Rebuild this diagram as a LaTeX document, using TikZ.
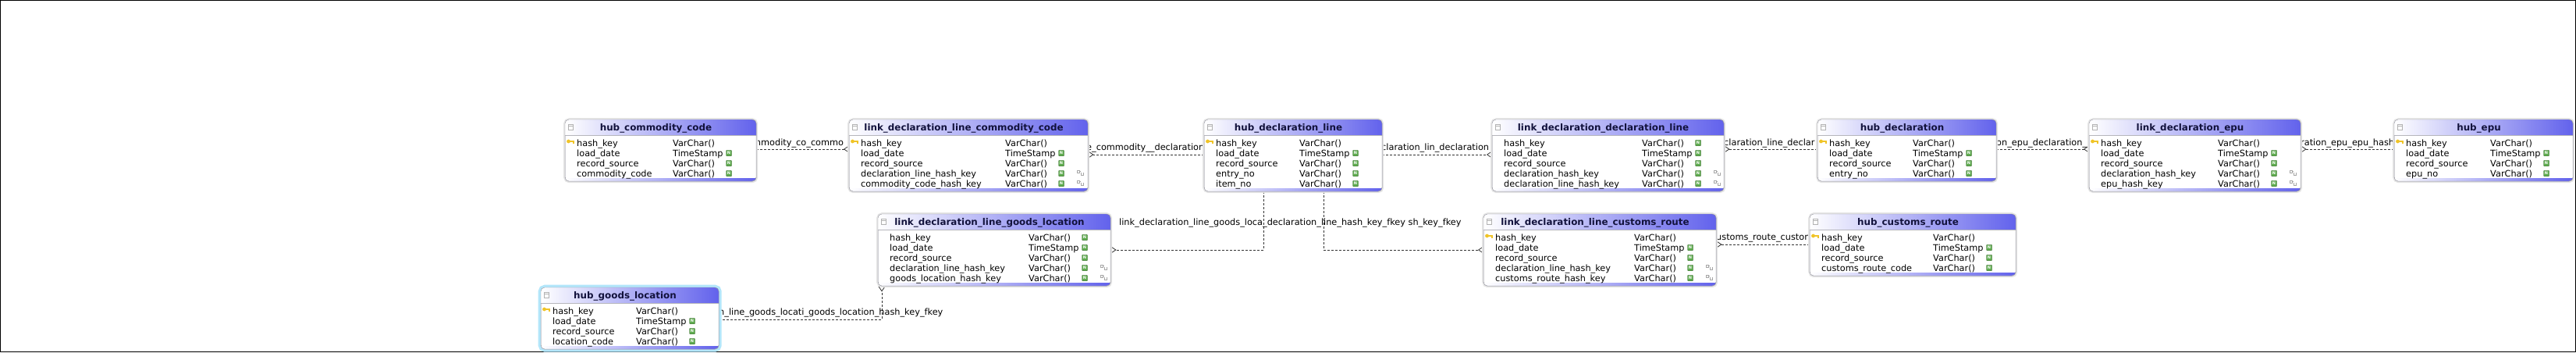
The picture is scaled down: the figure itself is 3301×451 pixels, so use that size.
\documentclass[tikz,border=0pt]{standalone}
\usepackage{fontspec}
\setmainfont{DejaVu Sans}
\usepackage{tikz}
\usepackage{xcolor}
\usetikzlibrary{arrows.meta,backgrounds}

\definecolor{hdrblue}{RGB}{98,98,236}
\definecolor{tabgray}{RGB}{150,150,160}
\definecolor{ngreen}{RGB}{96,172,80}
\definecolor{keygold}{RGB}{240,196,40}
\definecolor{titlecol}{RGB}{18,18,60}

\newcommand{\dbtable}[8][]{%
  \begin{scope}[shift={(#4)}]
    \pgfmathsetmacro\tabh{27+13*#6}
    \node[tabbox,#1,minimum width=#5pt,minimum height=\tabh pt] (#2) at (0,0) {};
    \begin{scope}
      \clip[rounded corners=5pt] (0,0) rectangle (#5,\tabh);
      \shade[left color=white,right color=hdrblue] (0,0) rectangle (#5,20);
      \shade[left color=white,right color=hdrblue] (0,\tabh-4) rectangle (#5,\tabh);
    \end{scope}
    \draw[tabgray!70] (0,20) -- (#5,20);
    \draw[tabgray,rounded corners=5pt] (0,0) rectangle (#5,\tabh);
    \draw[gray!60,fill=white] (4,6) rectangle (10,13);
    \draw[gray!60] (4,8) -- (10,8);
    \node[tabtitle] (#2-title) at (#5/2-6,14.5) {#3};
    \foreach \fname/\ftype/\fflag [count=\i] in {#8}{
      \pgfmathsetmacro\ry{34+13*(\i-1)}
      \node[rowtext] (#2-n\i) at (15,\ry) {\fname};
      \node[rowtext] (#2-t\i) at (#7,\ry) {\ftype};
      \ifnum\fflag=0\relax
        \fill[keygold] (4.5,\ry-6) circle (2.4);
        \draw[keygold,line width=1.5pt] (6,\ry-6) -- (11,\ry-6) -- (11,\ry-3.5);
      \fi
      \ifnum\fflag>0\relax
        \node[nnull] (#2-N\i) at (#7+72,\ry-4) {N};
      \fi
      \ifnum\fflag>1\relax
        \draw[gray!70,line width=0.6pt] (#7+92,\ry-8) rectangle (#7+95,\ry-5)
          (#7+95,\ry-6.5) -- (#7+97,\ry-6.5)
          (#7+97,\ry-5) -- (#7+97,\ry-2) -- (#7+100,\ry-2) -- (#7+100,\ry-5);
      \fi
    }
  \end{scope}}

\begin{document}
\begin{tikzpicture}[x=1pt,y=-1pt,
    tabbox/.style={anchor=north west,draw=tabgray,fill=white,rounded corners=5pt,inner sep=0pt,
      preaction={draw=black!10,line width=4pt}},
    tabtitle/.style={anchor=base,inner sep=0pt,font=\bfseries\fontsize{11.9}{13}\selectfont,text=titlecol},
    rowtext/.style={anchor=base west,inner sep=0pt,font=\fontsize{11.3}{13}\selectfont,text=black},
    nnull/.style={fill=ngreen,draw=ngreen!60!black,line width=0.4pt,text=white,
      font=\bfseries\fontsize{5}{5}\selectfont,inner sep=0pt,minimum width=7pt,minimum height=7.5pt,
      rounded corners=0.8pt},
    fklabel/.style={anchor=base west,inner sep=0pt,font=\fontsize{11.3}{13}\selectfont},
    fkline/.style={draw=black!80,line width=0.8pt,dash pattern=on 3pt off 2pt,
      -{Straight Barb[reversed,length=6pt,width=8pt,line width=0.8pt]}}]
\useasboundingbox (0,0) rectangle (3301,451);
\draw[line width=1.3pt] (0.8,0.8) rectangle (3300.2,450.2);

\dbtable{hcc}{hub\_commodity\_code}{724,153}{245}{4}{138}{hash\_key/VarChar()/0,
  load\_date/TimeStamp/1, record\_source/VarChar()/1, commodity\_code/VarChar()/1}
\dbtable{ldlcc}{link\_declaration\_line\_commodity\_code}{1088,153}{306}{5}{200}{hash\_key/VarChar()/0,
  load\_date/TimeStamp/1, record\_source/VarChar()/1, declaration\_line\_hash\_key/VarChar()/2,
  commodity\_code\_hash\_key/VarChar()/2}
\dbtable{hdl}{hub\_declaration\_line}{1543,153}{228}{5}{122}{hash\_key/VarChar()/0,
  load\_date/TimeStamp/1, record\_source/VarChar()/1, entry\_no/VarChar()/1, item\_no/VarChar()/1}
\dbtable{lddl}{link\_declaration\_declaration\_line}{1912,153}{297}{5}{192}{hash\_key/VarChar()/1,
  load\_date/TimeStamp/1, record\_source/VarChar()/1, declaration\_hash\_key/VarChar()/2,
  declaration\_line\_hash\_key/VarChar()/2}
\dbtable{hd}{hub\_declaration}{2329,153}{229}{4}{122}{hash\_key/VarChar()/0,
  load\_date/TimeStamp/1, record\_source/VarChar()/1, entry\_no/VarChar()/1}
\dbtable{lde}{link\_declaration\_epu}{2677,153}{271}{5}{165}{hash\_key/VarChar()/0,
  load\_date/TimeStamp/1, record\_source/VarChar()/1, declaration\_hash\_key/VarChar()/2,
  epu\_hash\_key/VarChar()/2}
\dbtable{he}{hub\_epu}{3068,153}{229}{4}{123}{hash\_key/VarChar()/0,
  load\_date/TimeStamp/1, record\_source/VarChar()/1, epu\_no/VarChar()/1}
\dbtable{ldlgl}{link\_declaration\_line\_goods\_location}{1125,274}{298}{5}{193}{hash\_key/VarChar()/1,
  load\_date/TimeStamp/1, record\_source/VarChar()/1, declaration\_line\_hash\_key/VarChar()/2,
  goods\_location\_hash\_key/VarChar()/2}
\dbtable{ldlcr}{link\_declaration\_line\_customs\_route}{1901,274}{298}{5}{193}{hash\_key/VarChar()/0,
  load\_date/TimeStamp/1, record\_source/VarChar()/1, declaration\_line\_hash\_key/VarChar()/2,
  customs\_route\_hash\_key/VarChar()/2}
\dbtable{hcr}{hub\_customs\_route}{2319,274}{264}{4}{158}{hash\_key/VarChar()/0,
  load\_date/TimeStamp/1, record\_source/VarChar()/1, customs\_route\_code/VarChar()/1}
\dbtable[preaction={draw=cyan!30,line width=7pt}]{hgl}{hub\_goods\_location}{693,368}{228}{4}{122}{hash\_key/VarChar()/0,
  load\_date/TimeStamp/1, record\_source/VarChar()/1, location\_code/VarChar()/1}

\begin{pgfonlayer}{background}
\draw[fkline] (hcc.east|-0,191) -- (ldlcc.west|-0,191);
\node[fklabel] (l1) at (964,186) {mmodity\_co\_commo};
\draw[fkline] (hdl.west|-0,198) -- (ldlcc.east|-0,198);
\node[fklabel] (l2) at (1392,192) {e\_commodity\_\_declaration};
\draw[fkline] (hdl.east|-0,198) -- (lddl.west|-0,198);
\node[fklabel] (l3) at (1770,192) {claration\_lin\_declaration};
\draw[fkline] (hd.west|-0,191) -- (lddl.east|-0,191);
\node[fklabel] (l4) at (2209,186) {claration\_line\_declar};
\draw[fkline] (hd.east|-0,191) -- (lde.west|-0,191);
\node[fklabel] (l5) at (2558,186) {on\_epu\_declaration\_l};
\draw[fkline] (he.west|-0,191) -- (lde.east|-0,191);
\node[fklabel] (l6) at (2948,186) {ration\_epu\_epu\_hash};
\draw[fkline] (hdl.south-|1619,0) |- (ldlgl.east|-0,320);
\draw[fkline] (hdl.south-|1696,0) |- (ldlcr.west|-0,320);
\node[fklabel] (l7) at (1434,288) {link\_declaration\_line\_goods\_loca\_declaration\_line\_hash\_key\_fkey sh\_key\_fkey};
\draw[fkline] (hcr.west|-0,313) -- (ldlcr.east|-0,313);
\node[fklabel] (l8) at (2199,307) {ustoms\_route\_custom};
\draw[fkline] (hgl.east|-0,409) -| (ldlgl.south-|1130,0);
\node[fklabel] (l9) at (921,403) {n\_line\_goods\_locati\_goods\_location\_hash\_key\_fkey};
\end{pgfonlayer}
\end{tikzpicture}
\end{document}
